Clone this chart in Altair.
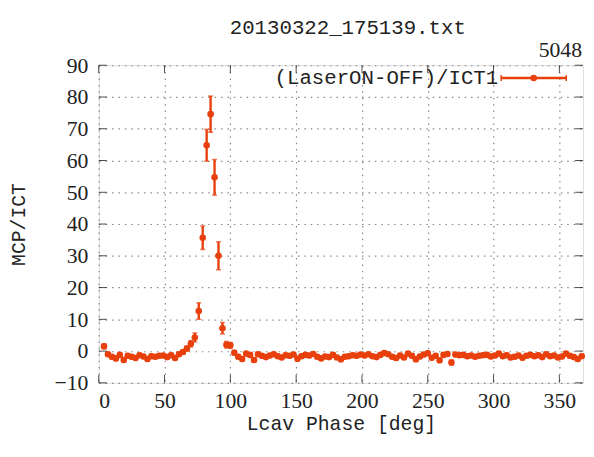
import altair as alt
import pandas as pd

# ---- data ----
phase = [4, 7, 10, 13, 16, 19, 22, 25, 28, 31, 34, 37, 40, 43, 46, 49, 52, 55, 58, 61,
         64, 67, 70, 73, 76, 79, 82, 85, 88, 91, 94, 97, 100, 103, 106, 109, 112, 115, 118, 121,
         124, 127, 130, 133, 136, 139, 142, 145, 148, 151, 154, 157, 160, 163, 166, 169, 172, 175, 178, 181,
         184, 187, 190, 193, 196, 199, 202, 205, 208, 211, 214, 217, 220, 223, 226, 229, 232, 235, 238, 241,
         244, 247, 250, 253, 256, 259, 262, 265, 268, 271, 274, 277, 280, 283, 286, 289, 292, 295, 298, 301,
         304, 307, 310, 313, 316, 319, 322, 325, 328, 331, 334, 337, 340, 343, 346, 349, 352, 355, 358, 361,
         364, 367]
ratio = [1.5, -1.0, -1.8, -2.3, -1.2, -2.8, -1.5, -1.8, -2.2, -1.3, -1.7, -2.5, -1.6, -1.8, -1.5, -1.4, -1.9, -1.3, -2.2, -1.0,
         -0.3, 0.8, 2.3, 4.3, 12.6, 35.7, 64.8, 74.6, 54.7, 30.0, 7.2, 2.0, 1.8, -0.5, -1.8, -2.5, -0.8, -1.2, -2.8, -1.0,
         -1.5, -1.9, -1.4, -1.0, -1.6, -2.0, -1.3, -1.5, -1.1, -2.4, -1.6, -1.2, -1.4, -0.9, -1.8, -2.3, -1.7, -1.9, -1.2, -2.0,
         -2.6, -1.8, -1.6, -1.3, -1.5, -1.1, -1.4, -1.0, -1.6, -1.9, -1.2, -0.6, -1.0, -1.8, -2.2, -1.4, -2.0, -0.8, -1.5, -2.6,
         -1.7, -1.1, -0.7, -2.1, -1.5, -2.9, -1.2, -0.9, -3.6, -1.1, -1.3, -1.2, -1.6, -1.4, -1.8, -1.5, -1.3, -1.2, -1.7, -1.4,
         -0.8, -1.6, -1.3, -2.0, -1.8, -1.4, -2.1, -1.5, -1.2, -1.6, -1.3, -1.9, -1.0, -1.6, -1.4, -2.0, -1.7, -0.8, -1.5, -1.9,
         -2.5, -1.6]
err = [0.8, 0.6, 0.6, 0.7, 0.6, 0.7, 0.6, 0.6, 0.6, 0.6, 0.6, 0.7, 0.6, 0.6, 0.6, 0.6, 0.6, 0.6, 0.6, 0.6,
       0.7, 0.8, 1.0, 1.4, 2.6, 3.7, 5.0, 5.7, 5.6, 4.4, 1.8, 1.0, 0.9, 0.7, 0.6, 0.7, 0.6, 0.6, 0.7, 0.6,
       0.6, 0.6, 0.6, 0.6, 0.6, 0.6, 0.6, 0.6, 0.6, 0.7, 0.6, 0.6, 0.6, 0.6, 0.6, 0.6, 0.6, 0.6, 0.6, 0.6,
       0.7, 0.6, 0.6, 0.6, 0.6, 0.6, 0.6, 0.6, 0.6, 0.6, 0.6, 0.6, 0.6, 0.6, 0.6, 0.6, 0.6, 0.6, 0.6, 0.7,
       0.6, 0.6, 0.6, 0.6, 0.6, 0.7, 0.6, 0.6, 0.8, 0.6, 0.6, 0.6, 0.6, 0.6, 0.6, 0.6, 0.6, 0.6, 0.6, 0.6,
       0.6, 0.6, 0.6, 0.6, 0.6, 0.6, 0.6, 0.6, 0.6, 0.6, 0.6, 0.6, 0.6, 0.6, 0.6, 0.6, 0.6, 0.6, 0.6, 0.6,
       0.7, 0.6]

x_ticks = [0, 50, 100, 150, 200, 250, 300, 350]
y_ticks = [-10, 0, 10, 20, 30, 40, 50, 60, 70, 80, 90]
title_text = "20130322_175139.txt"
corner_text = "5048"
legend_label = "(LaserON-OFF)/ICT1"
x_label = "Lcav Phase [deg]"
y_label = "MCP/ICT"

COLOR = "#e8400c"
MONO = "Liberation Mono"
SERIF = "Liberation Serif"

df = pd.DataFrame({"phase": phase, "ratio": ratio, "err": err})
df["lo"] = df["ratio"] - df["err"]
df["hi"] = df["ratio"] + df["err"]

xs = alt.Scale(domain=[0, 368], nice=False, zero=False)
ys = alt.Scale(domain=[-10, 90], nice=False, zero=False)

x_axis = alt.Axis(values=x_ticks, tickSize=0, domain=False, labelFont=SERIF,
                  labelFontSize=22, labelColor="#222", labelPadding=8, labelOverlap=False,
                  titleFont=MONO, titleFontSize=20, titleFontWeight="normal",
                  titleColor="#222", titlePadding=2,
                  grid=True, gridDash=[1.5, 5], gridColor="#888", gridWidth=1.2)
y_axis = alt.Axis(values=y_ticks, tickSize=0, domain=False, labelFont=SERIF,
                  labelFontSize=22, labelColor="#222", labelPadding=11, labelOverlap=False,
                  titleFont=MONO, titleFontSize=20, titleFontWeight="normal",
                  titleColor="#222", titlePadding=26,
                  grid=True, gridDash=[1.5, 5], gridColor="#888", gridWidth=1.2)


def X(field):
    return alt.X(field, scale=xs, axis=x_axis, title=x_label)


def Y(field):
    return alt.Y(field, scale=ys, axis=y_axis, title=y_label)


base = alt.Chart(df)
bars = base.mark_rule(color=COLOR, strokeWidth=2.4).encode(
    x=X("phase:Q"), y=Y("lo:Q"), y2="hi:Q")
caps_hi = base.mark_tick(color=COLOR, thickness=1.5, size=5, orient="horizontal").encode(
    x=X("phase:Q"), y=Y("hi:Q"))
caps_lo = base.mark_tick(color=COLOR, thickness=1.5, size=5, orient="horizontal").encode(
    x=X("phase:Q"), y=Y("lo:Q"))
pts = base.mark_point(color=COLOR, filled=True, shape="circle", size=44, opacity=1).encode(
    x=X("phase:Q"), y=Y("ratio:Q"))

# inward ticks (gnuplot style)
xt = pd.DataFrame({"t": x_ticks})
yt = pd.DataFrame({"t": y_ticks})
tick_b = alt.Chart(xt).mark_tick(color="black", size=8, thickness=1, orient="vertical", yOffset=-4).encode(
    x=X("t:Q"), y=alt.YDatum(-10, scale=ys, axis=y_axis, title=y_label))
tick_t = alt.Chart(xt).mark_tick(color="black", size=8, thickness=1, orient="vertical", yOffset=4).encode(
    x=X("t:Q"), y=alt.YDatum(90, scale=ys, axis=y_axis, title=y_label))
tick_l = alt.Chart(yt).mark_tick(color="black", size=8, thickness=1, orient="horizontal", xOffset=4).encode(
    y=Y("t:Q"), x=alt.XDatum(0, scale=xs, axis=x_axis, title=x_label))
tick_r = alt.Chart(yt).mark_tick(color="black", size=8, thickness=1, orient="horizontal", xOffset=-4).encode(
    y=Y("t:Q"), x=alt.XDatum(368, scale=xs, axis=x_axis, title=x_label))

# key (gnuplot style: label left, sample right)
key_df = pd.DataFrame({"label": [legend_label]})
key_text = alt.Chart(key_df).mark_text(align="right", baseline="middle", font=MONO, fontSize=21,
                                       color="#222").encode(
    text="label:N", x=alt.value(405), y=alt.value(13))
key_line = alt.Chart(key_df).mark_rule(color=COLOR, strokeWidth=2.4).encode(
    x=alt.value(408), x2=alt.value(474), y=alt.value(13))
key_capl = alt.Chart(key_df).mark_rule(color=COLOR, strokeWidth=1.5).encode(
    x=alt.value(408), y=alt.value(10), y2=alt.value(16))
key_capr = alt.Chart(key_df).mark_rule(color=COLOR, strokeWidth=1.5).encode(
    x=alt.value(474), y=alt.value(10), y2=alt.value(16))
key_pt = alt.Chart(key_df).mark_point(color=COLOR, filled=True, shape="circle", size=44, opacity=1).encode(
    x=alt.value(441), y=alt.value(13))

corner_df = pd.DataFrame({"label": [corner_text]})
corner = alt.Chart(corner_df).mark_text(align="right", baseline="middle", font=SERIF, fontSize=22,
                                        color="#222").encode(
    text="label:N", x=alt.value(490), y=alt.value(-15))

chart = alt.layer(
    bars, caps_hi, caps_lo, pts, tick_b, tick_t, tick_l, tick_r,
    key_text, key_line, key_capl, key_capr, key_pt, corner
).properties(
    width=491, height=322,
    title=alt.TitleParams(title_text, font=MONO, fontSize=21, fontWeight="normal",
                          color="#222", anchor="middle", offset=2, dx=7),
    autosize=alt.AutoSizeParams(type="none"),
    padding={"left": 92, "top": 55, "right": 3, "bottom": 60},
).configure_view(
    stroke="black", strokeWidth=1.5
).configure(background="white")

chart.save("out.html", embed_options={"renderer": "svg", "actions": False})
